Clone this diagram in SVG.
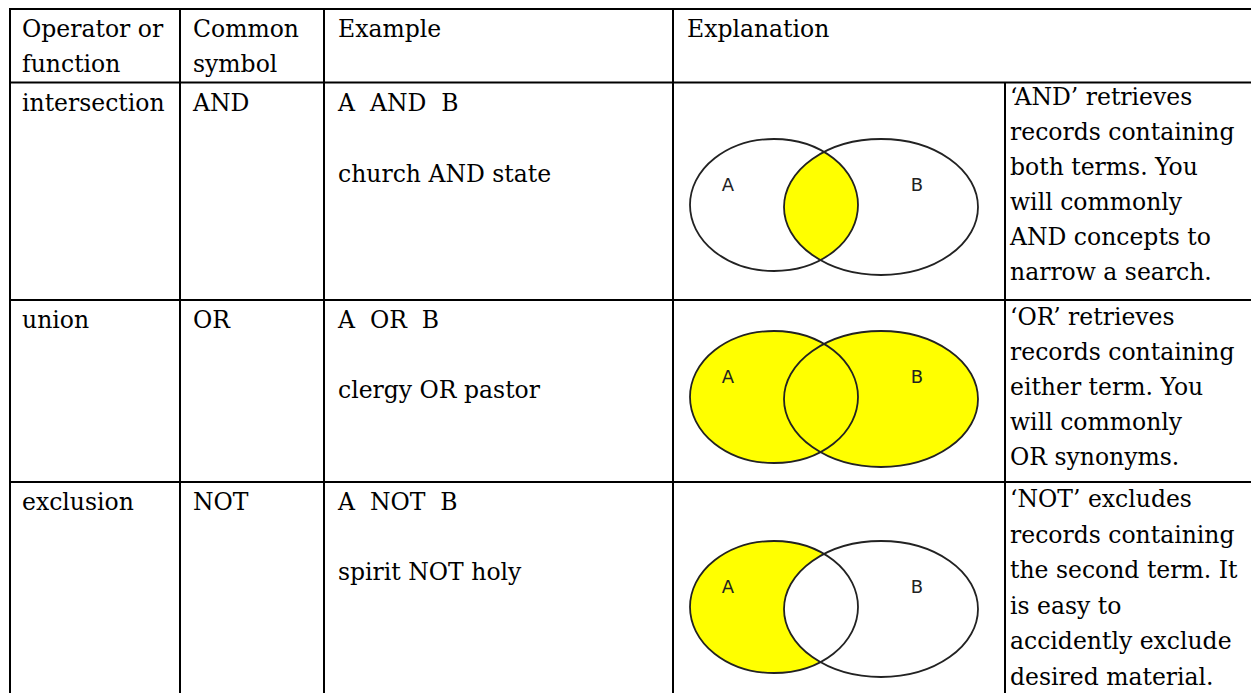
<svg xmlns="http://www.w3.org/2000/svg" width="1251" height="693" viewBox="0 0 1251 693">
<style>
.t{font-family:"DejaVu Serif","Liberation Serif",serif;font-size:23.5px;fill:#000;white-space:pre}
.g{stroke:#000;stroke-width:2;fill:none}
.o{fill:none;stroke:#222;stroke-width:1.8}
.lab{font-family:"DejaVu Sans","Liberation Sans",sans-serif;font-size:18px;fill:#222;text-anchor:middle}
.y{fill:#ffff00;stroke:none}
.w{fill:#ffffff;stroke:none}
</style>
<defs>
<ellipse id="eA" cx="774" cy="0" rx="84" ry="66"/>
<ellipse id="eB" cx="881" cy="2" rx="97" ry="68"/>
<clipPath id="clipB"><ellipse cx="881" cy="2" rx="97" ry="68"/></clipPath>
</defs>
<rect width="1251" height="693" fill="#fff"/>

<g id="grid">
<line class="g" x1="9" y1="9" x2="1260" y2="9"/>
<line class="g" x1="9" y1="82.5" x2="1260" y2="82.5"/>
<line class="g" x1="9" y1="300" x2="1260" y2="300"/>
<line class="g" x1="9" y1="482" x2="1260" y2="482"/>
<line class="g" x1="10" y1="8" x2="10" y2="700"/>
<line class="g" x1="180" y1="8" x2="180" y2="700"/>
<line class="g" x1="324" y1="8" x2="324" y2="700"/>
<line class="g" x1="673" y1="8" x2="673" y2="700"/>
<line class="g" x1="1005" y1="82.5" x2="1005" y2="700"/>
</g>

<g id="header">
<text class="t" x="22" y="37">Operator or</text>
<text class="t" x="22" y="72">function</text>
<text class="t" x="193" y="37">Common</text>
<text class="t" x="193" y="72">symbol</text>
<text class="t" x="338" y="37">Example</text>
<text class="t" x="687" y="37">Explanation</text>
</g>

<g id="row-and">
<text class="t" x="22" y="111">intersection</text>
<text class="t" x="193" y="111">AND</text>
<text class="t" x="338" y="111">A  AND  B</text>
<text class="t" x="338" y="182">church AND state</text>
<g id="venn-and" transform="translate(0,205)">
<use href="#eA" class="y" clip-path="url(#clipB)"/>
<use href="#eA" class="o"/>
<use href="#eB" class="o"/>
<text class="lab" x="728" y="-14">A</text>
<text class="lab" x="917" y="-14">B</text>
</g>
<text class="t" x="1010" y="104.5">‘AND’ retrieves</text>
<text class="t" x="1010" y="139.5">records containing</text>
<text class="t" x="1010" y="174.5">both terms. You</text>
<text class="t" x="1010" y="209.5">will commonly</text>
<text class="t" x="1010" y="244.5">AND concepts to</text>
<text class="t" x="1010" y="279.5">narrow a search.</text>
</g>

<g id="row-or">
<text class="t" x="22" y="328">union</text>
<text class="t" x="193" y="328">OR</text>
<text class="t" x="338" y="328">A  OR  B</text>
<text class="t" x="338" y="398">clergy OR pastor</text>
<g id="venn-or" transform="translate(0,397)">
<use href="#eA" class="y"/>
<use href="#eB" class="y"/>
<use href="#eA" class="o"/>
<use href="#eB" class="o"/>
<text class="lab" x="728" y="-14">A</text>
<text class="lab" x="917" y="-14">B</text>
</g>
<text class="t" x="1010" y="325">‘OR’ retrieves</text>
<text class="t" x="1010" y="360">records containing</text>
<text class="t" x="1010" y="395">either term. You</text>
<text class="t" x="1010" y="430">will commonly</text>
<text class="t" x="1010" y="465">OR synonyms.</text>
</g>

<g id="row-not">
<text class="t" x="22" y="510">exclusion</text>
<text class="t" x="193" y="510">NOT</text>
<text class="t" x="338" y="510">A  NOT  B</text>
<text class="t" x="338" y="580">spirit NOT holy</text>
<g id="venn-not" transform="translate(0,607)">
<use href="#eA" class="y"/>
<use href="#eB" class="w"/>
<use href="#eA" class="o"/>
<use href="#eB" class="o"/>
<text class="lab" x="728" y="-14">A</text>
<text class="lab" x="917" y="-14">B</text>
</g>
<text class="t" x="1010" y="507">‘NOT’ excludes</text>
<text class="t" x="1010" y="542.5">records containing</text>
<text class="t" x="1010" y="578">the second term. It</text>
<text class="t" x="1010" y="613.5">is easy to</text>
<text class="t" x="1010" y="649">accidently exclude</text>
<text class="t" x="1010" y="684.5">desired material.</text>
</g>
</svg>
